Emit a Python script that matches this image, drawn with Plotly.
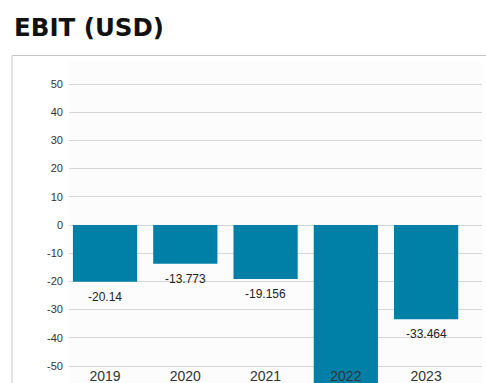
import plotly.graph_objects as go

# EBIT by fiscal year, USD
years = ["2019", "2020", "2021", "2022", "2023"]
ebit = [-20.14, -13.773, -19.156, -61.83, -33.464]
y_ticks = [50, 40, 30, 20, 10, 0, -10, -20, -30, -40, -50]

W, H = 486, 383
BAR = "#0080a6"
Y_MIN, Y_MAX = -56.03, 57.8
SANS = "Liberation Sans, Arial, sans-serif"

fig = go.Figure(
    go.Bar(
        x=years,
        y=ebit,
        marker=dict(color=BAR, line=dict(width=0)),
        width=0.8,
        cliponaxis=True,
        hoverinfo="skip",
    )
)

# value labels under each bar end (only where the bar end lies inside the axis range);
# x is given as the category index so the year strings are not read as numbers
value_labels = [
    dict(
        x=i,
        y=v,
        xref="x",
        yref="y",
        text=str(v),
        showarrow=False,
        yanchor="top",
        yshift=-6,
        font=dict(family=SANS, size=12, color="#222"),
    )
    for i, v in enumerate(ebit)
    if v > Y_MIN + 8
]

fig.update_layout(
    width=W,
    height=H,
    margin=dict(l=0, r=0, t=0, b=0),
    paper_bgcolor="white",
    plot_bgcolor="#fcfcfc",
    showlegend=False,
    bargap=0.2,
    xaxis=dict(
        type="category",
        range=[-0.449, 4.69],
        domain=[69 / W, 481.5 / W],
        anchor="free",
        position=(H - 366) / H,
        showgrid=False,
        showline=False,
        zeroline=False,
        ticks="",
        tickfont=dict(family=SANS, size=14, color="#333"),
        ticklabelstandoff=0,
    ),
    yaxis=dict(
        range=[Y_MIN, Y_MAX],
        domain=[0, 1 - 62 / H],
        tickvals=y_ticks,
        ticktext=[str(v) for v in y_ticks],
        showgrid=True,
        gridcolor="#d6d6d6",
        gridwidth=1,
        zeroline=True,
        zerolinecolor="#d6d6d6",
        zerolinewidth=1,
        showline=False,
        ticks="",
        ticklabelstandoff=5,
        tickfont=dict(family=SANS, size=11, color="#333"),
    ),
    shapes=[
        dict(
            type="rect",
            xref="paper",
            yref="paper",
            x0=12 / W,
            x1=1.05,
            y0=-0.05,
            y1=1 - 55.5 / H,
            line=dict(color="#c4c4c4", width=1),
            fillcolor="rgba(0,0,0,0)",
            layer="below",
        )
    ],
    annotations=[
        dict(
            text="<b>EBIT (USD)</b>",
            xref="paper",
            yref="paper",
            x=12 / W,
            y=1 - 11 / H,
            xanchor="left",
            yanchor="top",
            showarrow=False,
            font=dict(family="DejaVu Sans, sans-serif", size=24.5, color="#111"),
        )
    ]
    + value_labels,
)

fig.write_html("out.html")
